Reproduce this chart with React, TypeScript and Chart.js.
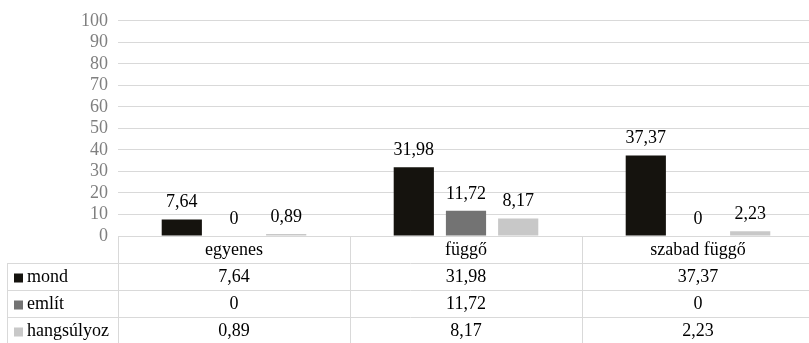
import React, { useEffect, useRef } from "react";
import { Chart, registerables } from "chart.js";

Chart.register(...registerables);

const categories = ["egyenes", "függő", "szabad függő"];
const seriesNames = ["mond", "említ", "hangsúlyoz"];
const mond = [7.64, 31.98, 37.37];
const emlit = [0, 11.72, 0];
const hangsulyoz = [0.89, 8.17, 2.23];
const seriesColors = ["#15130e", "#737373", "#c8c8c8"];
const yTicks = [0, 10, 20, 30, 40, 50, 60, 70, 80, 90, 100];

const FONT = "'Liberation Serif'";
const fmt = (v: number) => String(v).replace(".", ",");

const labelsPlugin = {
  id: "barLabels",
  afterDatasetsDraw(chart: any) {
    const ctx = chart.ctx;
    ctx.save();
    ctx.font = `18px ${FONT}`;
    ctx.fillStyle = "#000";
    ctx.textAlign = "center";
    ctx.textBaseline = "middle";
    chart.data.datasets.forEach((ds: any, di: number) => {
      const meta = chart.getDatasetMeta(di);
      meta.data.forEach((bar: any, i: number) => {
        ctx.fillText(fmt(ds.data[i]), bar.x, bar.y - 17);
      });
    });
    ctx.restore();
  },
};

const tablePlugin = {
  id: "dataTable",
  afterDraw(chart: any) {
    const ctx = chart.ctx;
    const area = chart.chartArea;
    const xs = chart.scales.x;
    const rowH = 27;
    const top = area.bottom;
    const left0 = 7;
    const right = area.right;
    const n = categories.length;
    const colW = (area.right - area.left) / n;
    ctx.save();
    ctx.strokeStyle = "#d9d9d9";
    ctx.lineWidth = 1;
    const line = (x1: number, y1: number, x2: number, y2: number) => {
      ctx.beginPath();
      ctx.moveTo(x1, y1);
      ctx.lineTo(x2, y2);
      ctx.stroke();
    };
    line(area.left, top + 0.5, right, top + 0.5);
    for (let r = 1; r <= 4; r++) {
      const y = Math.round(top + r * rowH) + 0.5;
      line(left0, y, right, y);
    }
    line(left0 + 0.5, top + rowH, left0 + 0.5, top + rowH * 4);
    for (let c = 0; c <= n; c++) {
      const x = Math.round(area.left + c * colW) + 0.5;
      line(x, top, x, top + rowH * 4);
    }
    ctx.font = `18px ${FONT}`;
    ctx.fillStyle = "#000";
    ctx.textBaseline = "middle";
    ctx.textAlign = "center";
    categories.forEach((cat, i) => {
      const cx = xs.getPixelForValue(i);
      ctx.fillText(cat, cx, top + rowH / 2 + 1);
    });
    const series = [mond, emlit, hangsulyoz];
    series.forEach((vals, si) => {
      const cy = top + rowH * (si + 1) + rowH / 2 + 1;
      ctx.textAlign = "center";
      vals.forEach((v, i) => {
        ctx.fillText(fmt(v), xs.getPixelForValue(i), cy);
      });
      ctx.fillStyle = seriesColors[si];
      ctx.fillRect(14, cy - 4, 9, 9);
      ctx.fillStyle = "#000";
      ctx.textAlign = "left";
      ctx.fillText(seriesNames[si], 27, cy);
    });
    ctx.restore();
  },
};

export default function App() {
  const ref = useRef<HTMLCanvasElement>(null);
  useEffect(() => {
    if (!ref.current) return;
    const chart = new Chart(ref.current, {
      type: "bar",
      data: {
        labels: categories,
        datasets: [
          { label: seriesNames[0], data: mond, backgroundColor: seriesColors[0] },
          { label: seriesNames[1], data: emlit, backgroundColor: seriesColors[1] },
          { label: seriesNames[2], data: hangsulyoz, backgroundColor: seriesColors[2] },
        ].map((d) => ({ ...d, categoryPercentage: 0.675, barPercentage: 0.77 })),
      },
      options: {
        animation: false,
        responsive: false,
        maintainAspectRatio: false,
        layout: { padding: { top: 20, bottom: 107, left: 0, right: 0 } },
        plugins: { legend: { display: false }, tooltip: { enabled: false } },
        scales: {
          x: { display: false },
          y: {
            min: 0,
            max: 100,
            afterBuildTicks: (s: any) => {
              s.ticks = yTicks.map((v) => ({ value: v }));
            },
            afterFit: (s: any) => {
              s.width = 118;
            },
            grid: { color: "#d9d9d9", drawTicks: false },
            border: { display: false },
            ticks: {
              autoSkip: false,
              padding: 10,
              color: "#7f7f7f",
              font: { family: FONT, size: 18 },
            },
          },
        },
      },
      plugins: [labelsPlugin, tablePlugin],
    });
    let alive = true;
    const redraw = () => {
      if (alive) chart.update("none");
    };
    (document as any).fonts?.load?.(`18px ${FONT}`).then(redraw, redraw);
    return () => {
      alive = false;
      chart.destroy();
    };
  }, []);
  return (
    <div style={{ position: "absolute", left: 0, top: 0, width: 809, height: 343, overflow: "hidden", background: "#fff" }}>
      <div
        aria-hidden="true"
        style={{ position: "absolute", left: 0, top: 0, fontFamily: FONT, fontSize: 18, color: "transparent", whiteSpace: "nowrap" }}
      >
        egyenes függő szabad 0123456789,
      </div>
      <canvas ref={ref} width={814} height={343} style={{ display: "block", position: "relative" }} />
    </div>
  );
}
